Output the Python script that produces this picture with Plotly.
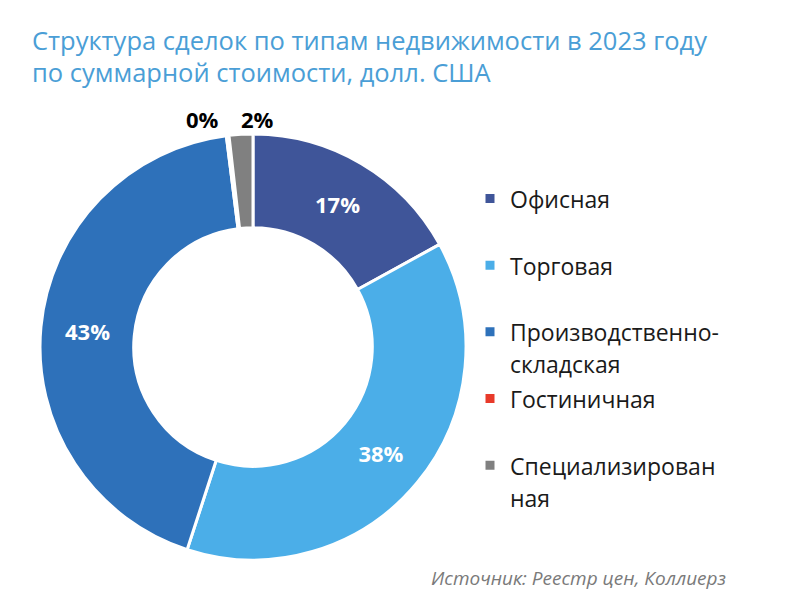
import plotly.graph_objects as go

categories = ["Офисная", "Торговая", "Производственно-<br>складская", "Гостиничная", "Специализирован<br>ная"]
values = [17.0, 38.0, 43.0, 0.2, 1.8]
colors = ["#3F5599", "#4BAEE8", "#2E71BA", "#E83A2A", "#808080"]
text_positions = ["inside", "inside", "inside", "none", "none"]
title_lines = ["Структура сделок по типам недвижимости в 2023 году", "по суммарной стоимости, долл. США"]
source_text = "Источник: Реестр цен, Коллиерз"

FONT = "Open Sans"
W, H = 788, 604
cx, cy, R = 253, 347, 213

legend_labels = ['<span style="font-size:23px">%s</span>' % (c if "<br>" in c else c + "<br> ") for c in categories]

total = sum(values)
small_labels = ["<b>%d%%</b>" % round(v / total * 100) for v in values]

fig = go.Figure()
fig.add_trace(go.Pie(
    labels=legend_labels,
    values=values,
    sort=False,
    direction="clockwise",
    rotation=0,
    hole=0.56,
    marker=dict(colors=colors, line=dict(color="white", width=3)),
    textposition=text_positions,
    texttemplate="<b>%{percent:.0%}</b>",
    insidetextorientation="horizontal",
    insidetextfont=dict(family=FONT, size=22, color="white"),
    domain=dict(x=[(cx - R) / W, (cx + R) / W], y=[1 - (cy + R) / H, 1 - (cy - R) / H]),
    automargin=False,
    hoverinfo="label+percent",
))

annotations = [
    dict(text=title_lines[0], x=30 / W, xanchor="left", y=1 - 40 / H, yanchor="middle",
         xref="paper", yref="paper", showarrow=False,
         font=dict(family=FONT, size=25.5, color="#4A9ED6")),
    dict(text=title_lines[1], x=30 / W, xanchor="left", y=1 - 72 / H, yanchor="middle",
         xref="paper", yref="paper", showarrow=False,
         font=dict(family=FONT, size=25.5, color="#4A9ED6")),
    dict(text="<i>" + source_text + "</i>", x=728 / W, xanchor="right", xref="paper",
         y=1 - 578 / H, yanchor="middle", yref="paper", showarrow=False,
         font=dict(family=FONT, size=19, color="#7a7a7a")),
    dict(text=small_labels[3], x=202 / W, xanchor="center", y=1 - 119 / H, yanchor="middle",
         xref="paper", yref="paper", showarrow=False,
         font=dict(family=FONT, size=22, color="black")),
    dict(text=small_labels[4], x=257 / W, xanchor="center", y=1 - 119 / H, yanchor="middle",
         xref="paper", yref="paper", showarrow=False,
         font=dict(family=FONT, size=22, color="black")),
]

fig.update_layout(
    width=W, height=H,
    margin=dict(l=0, r=0, t=0, b=0),
    paper_bgcolor="white",
    plot_bgcolor="white",
    font=dict(family=FONT, color="#1a1a1a"),
    legend=dict(
        x=470 / W, xanchor="left",
        y=1 - 176 / H, yanchor="top",
        font=dict(family=FONT, size=24.5, color="#1a1a1a"),
        valign="top",
        itemwidth=30,
        bgcolor="rgba(0,0,0,0)",
    ),
    annotations=annotations,
)

fig.write_html("out.html")
